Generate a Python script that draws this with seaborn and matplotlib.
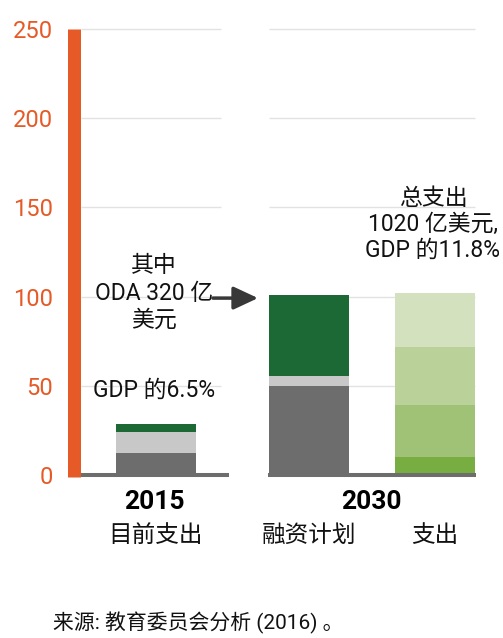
import numpy as np
import pandas as pd
import seaborn as sns
import matplotlib.pyplot as plt
from matplotlib.transforms import ScaledTranslation

# 数据
bars = ['目前支出', '融资计划', '支出']
years = ['2015', '2030']
seg_2015 = [12.5, 11.5, 4.5]       # 国内 / 其他 / ODA
seg_plan = [50, 5.5, 45.5]
seg_spend = [10, 29.5, 32.5, 30]
yticks = [0, 50, 100, 150, 200, 250]

# 颜色
orange = '#e55a26'
grey_dark = '#6d6d6d'
grey_light = '#c8c8c8'
green_dark = '#1d6935'
spend_greens = ['#78ae41', '#a0c277', '#bbd19a', '#d4e1bf']
seg_colors = [[grey_dark, grey_light, green_dark],
              [grey_dark, grey_light, green_dark],
              spend_greens]

# 布局 (x 单位 = 后两根柱子的间距)
bar_pos = [0, 1.214, 2.214]
bar_w = 0.635

sns.set_theme(style='white')
plt.rcParams['font.family'] = ['Roboto', 'Noto Sans CJK SC']

fig = plt.figure(figsize=(5.03, 6.38), dpi=100)
ax = fig.add_axes([0.161, 0.255, 0.7853, 0.700])

# 堆叠柱: 从最上层的累计值开始画, 下层覆盖上层
segs = [seg_2015, seg_plan, seg_spend]
n_layers = max(len(s) for s in segs)
for k in reversed(range(n_layers)):
    tops = [float(np.sum(s[:k + 1])) if k < len(s) else 0.0 for s in segs]
    df = pd.DataFrame({'pos': bar_pos, 'top': tops, 'bar': bars})
    pal = {b: (c[k] if k < len(c) else 'white') for b, c in zip(bars, seg_colors)}
    sns.barplot(data=df, x='pos', y='top', hue='bar', palette=pal, native_scale=True,
                orient='x', width=bar_w, dodge=False, errorbar=None, legend=False,
                saturation=1, linewidth=0, ax=ax)

# 网格线 (中间断开)
grid_vals = yticks[1:]
ax.hlines(grid_vals, -0.595, 0.516, color='#e2e2e2', lw=1, zorder=0, clip_on=False)
ax.hlines(grid_vals, 0.897, 2.532, color='#e2e2e2', lw=1, zorder=0, clip_on=False)

# 底线
ax.hlines(0, -0.595, 0.579, color=grey_dark, lw=2.9, zorder=3, clip_on=False)
ax.hlines(0, 0.889, 2.54, color=grey_dark, lw=2.9, zorder=3, clip_on=False)

ax.set_xlim(-0.595, 2.54)
ax.set_ylim(0, 250)
ax.set_xticks([])
ax.set_yticks(yticks)
ax.set_xlabel('')
ax.set_ylabel('')
ax.tick_params(axis='y', length=0, pad=15.5, labelsize=17, labelcolor=orange)
for lab in ax.get_yticklabels():
    lab.set_transform(lab.get_transform() + ScaledTranslation(0, 0.04, fig.dpi_scale_trans))

for s in ['top', 'right', 'bottom']:
    ax.spines[s].set_visible(False)
left = ax.spines['left']
left.set_color(orange)
left.set_linewidth(9.36)
left.set_capstyle('butt')
left.set_position(('outward', 4.68))
left.set_bounds(-1.2, 250)

# 注释
ax.text(-0.016, 102, '其中\nODA 320 亿\n美元', ha='center', va='center',
        fontsize=16.5, linespacing=1.25, color='#111111')
ax.annotate('', xy=(0.81, 99.2), xytext=(0.452, 99.2),
            arrowprops=dict(arrowstyle='-|>,head_length=0.75,head_width=0.35',
                            color='#383838', lw=2.5, shrinkA=0, shrinkB=0,
                            mutation_scale=20))
ax.text(-0.016, 47.7, 'GDP 的6.5%', ha='center', va='center', fontsize=16.5, color='#111111')
ax.text(2.198, 140.4, '总支出\n1020 亿美元,\nGDP 的11.8%', ha='center', va='center',
        fontsize=16.5, linespacing=1.15, color='#111111')

# 底部标签
ax.text(-0.016, -15, years[0], ha='center', va='center', fontsize=19,
        fontweight='bold', color='black', clip_on=False)
ax.text(1.706, -15, years[1], ha='center', va='center', fontsize=19,
        fontweight='bold', color='black', clip_on=False)
for p, b in zip(bar_pos, bars):
    ax.text(p, -33.5, b, ha='center', va='center', fontsize=17, color='#111111', clip_on=False)

fig.text(53 / 503, 1 - 623 / 638, '来源: 教育委员会分析 (2016) 。', fontsize=15,
         va='center', color='#111111')

fig.savefig('out.png', dpi=100)
